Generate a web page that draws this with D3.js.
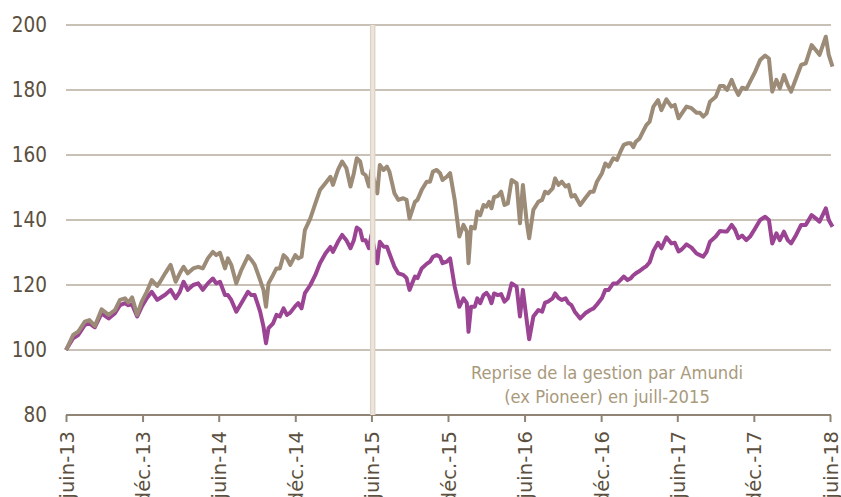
<!DOCTYPE html>
<html><head><meta charset="utf-8">
<script src="https://cdn.jsdelivr.net/npm/d3@7"></script>
<style>body{margin:0;background:#fff} svg{display:block}</style>
</head><body><svg id="c" width="841" height="497"></svg>
<script>
const dates = ["2013-06-01","2013-06-18","2013-06-30","2013-07-16","2013-07-27","2013-08-09","2013-08-25","2013-09-11","2013-09-26","2013-10-08","2013-10-20","2013-10-28","2013-11-06","2013-11-18","2013-11-29","2013-12-11","2013-12-23","2014-01-05","2014-01-12","2014-01-24","2014-02-06","2014-02-18","2014-02-28","2014-03-09","2014-03-19","2014-04-01","2014-04-13","2014-04-24","2014-05-06","2014-05-18","2014-05-26","2014-06-04","2014-06-16","2014-06-23","2014-07-01","2014-07-13","2014-07-25","2014-08-10","2014-08-18","2014-08-26","2014-09-08","2014-09-16","2014-09-22","2014-09-28","2014-10-09","2014-10-17","2014-10-25","2014-11-03","2014-11-11","2014-11-19","2014-12-01","2014-12-08","2014-12-16","2014-12-24","2015-01-06","2015-01-18","2015-01-29","2015-02-11","2015-02-23","2015-03-01","2015-03-13","2015-03-23","2015-04-02","2015-04-12","2015-04-20","2015-04-27","2015-05-05","2015-05-11","2015-05-18","2015-05-26","2015-06-01","2015-06-15","2015-06-21","2015-06-30","2015-07-08","2015-07-14","2015-07-26","2015-08-04","2015-08-16","2015-08-24","2015-08-31","2015-09-13","2015-09-19","2015-09-29","2015-10-11","2015-10-19","2015-10-26","2015-11-04","2015-11-12","2015-11-18","2015-11-28","2015-12-06","2015-12-17","2015-12-28","2016-01-07","2016-01-15","2016-01-19","2016-01-25","2016-02-03","2016-02-09","2016-02-16","2016-02-24","2016-03-02","2016-03-08","2016-03-14","2016-03-20","2016-03-29","2016-04-06","2016-04-14","2016-04-22","2016-05-01","2016-05-13","2016-05-21","2016-05-28","2016-06-06","2016-06-12","2016-06-22","2016-07-04","2016-07-13","2016-07-20","2016-07-27","2016-08-07","2016-08-13","2016-08-21","2016-08-29","2016-09-07","2016-09-14","2016-09-21","2016-09-29","2016-10-12","2016-10-24","2016-11-05","2016-11-13","2016-11-21","2016-12-03","2016-12-11","2016-12-19","2016-12-30","2017-01-08","2017-01-16","2017-01-24","2017-02-02","2017-02-10","2017-02-16","2017-02-22","2017-03-03","2017-03-11","2017-03-19","2017-03-27","2017-04-05","2017-04-16","2017-04-24","2017-05-06","2017-05-18","2017-05-26","2017-06-04","2017-06-12","2017-06-23","2017-07-05","2017-07-17","2017-07-25","2017-08-02","2017-08-10","2017-08-18","2017-09-01","2017-09-11","2017-09-20","2017-09-28","2017-10-09","2017-10-17","2017-10-25","2017-11-03","2017-11-13","2017-11-22","2017-12-04","2017-12-16","2017-12-28","2018-01-06","2018-01-14","2018-01-24","2018-02-01","2018-02-11","2018-02-20","2018-02-28","2018-03-12","2018-03-24","2018-04-04","2018-04-18","2018-04-28","2018-05-07","2018-05-22","2018-05-29","2018-06-07"];

const fundValues = [100,104.6,105.6,108.7,109.2,107.4,112.5,110.8,112.3,115.4,115.9,114.6,116.2,110.8,114.9,117.9,121.5,119.7,121,123.6,126.2,121,123.6,125.6,123.6,125.1,125.6,125.1,128.2,130.2,129.2,129.9,125.1,128.2,126.2,120.5,124.6,128.9,127.7,126.2,121.5,118.5,113.3,120.5,123.1,125.1,125.1,129.2,128.2,126.2,129.2,128.2,128.7,136.9,140.5,145.1,149.2,151.3,153.3,150.8,155.4,158,156,150.3,154.4,159,158,154.4,153.8,150.3,155.4,148.2,156.9,155.4,156.4,154.9,148.2,146.2,146.7,146.2,140.5,145.6,146.2,149.2,151.8,151.8,154.9,155.4,154.4,152.3,153.3,154.4,146.2,134.9,138.5,136.4,126.7,137.9,137.4,142.6,141.5,144.6,144.1,145.6,143.6,147,147.4,148.7,144.6,145.1,152.3,151.3,139,150.8,139.5,134.4,143.1,145.6,146.2,148.7,148.2,149.7,152.8,150.8,151.8,150.3,150.8,147.2,147.7,144.6,146.7,148.7,148.7,151.8,154.4,157.4,156.4,159,158.5,161,163.1,163.6,163.6,162.4,164.1,165.1,167.2,169.2,170.3,174.9,176.9,173.8,177.1,174.9,175.4,171.3,172.8,174.9,174.4,173,173,171.8,172.8,176.4,177.9,181.2,181.2,180,183.1,180.5,178.5,180.7,180.3,182.6,185.6,189.2,190.6,189.7,179.5,183.1,180.5,184.6,181.5,179.5,183.6,187.7,188.2,193.8,192.3,190.8,196.4,190.8,187.2];

const indexValues = [100,103.6,104.6,107.7,108.2,107,111.3,109.7,111.3,113.8,114.4,113.8,114,110.3,113.3,115.9,117.9,115.4,116,117,118.5,115.9,117.9,121,118.5,120,120.5,118.5,120.5,122,120.5,121,116.9,116.9,115.4,111.8,114.4,117.9,116.9,116.9,111.8,107.2,102.1,106.7,108.2,110.8,110.3,112.8,110.8,111.5,113.5,114.4,112.8,117.5,120,123.1,126.7,129.7,131.7,130.2,133.3,135.4,133.8,131.3,133.8,137.7,136.9,133.8,133.8,131.3,135.4,126.7,133.3,131.8,131.8,129.7,125.6,123.6,123.1,122.1,118.5,122.6,122.1,125.1,126.5,127.2,128.7,129.2,128.7,126.7,127.2,128.2,119.5,113.3,115.9,114.4,105.6,113.3,113.3,115.9,114.4,116.9,117.6,116.5,114.4,117.4,116.9,117.2,114.9,115.9,120.5,119.5,110.3,118.5,109.2,103.3,110.3,112.3,111.8,114.6,114.9,115.9,117.4,116,115.4,115.9,114.4,113.8,111.8,109.7,111.3,112.3,112.8,114,116,118.5,118.5,120.5,120.5,121.5,122.6,121.5,122.1,123,123.6,124.3,125.1,125.8,127,130.5,133,131.3,134.7,132.8,133,130.3,131,132.5,131.5,129.7,129.2,128.7,130.2,133.3,134.9,136.6,136.5,136.5,138.5,137,134.4,135.2,133.8,134.9,137.4,140,141,140,132.8,135.9,133.8,136.4,133.8,132.8,135.4,138.5,138.5,141.5,140.5,139.5,143.6,140,137.9];

const yTicks = [80,100,120,140,160,180,200];
const xTickDates = ["2013-06-01","2013-12-01","2014-06-01","2014-12-01","2015-06-01","2015-12-01","2016-06-01","2016-12-01","2017-06-01","2017-12-01","2018-06-01"];
const xTickLabels = ["juin-13","déc.-13","juin-14","déc.-14","juin-15","déc.-15","juin-16","déc.-16","juin-17","déc.-17","juin-18"];
const annotationDate = "2015-06-04";
const annotationLines = ["Reprise de la gestion par Amundi","(ex Pioneer) en juill-2015"];

const parse = d3.timeParse("%Y-%m-%d");
const svg = d3.select("#c");
const FONT_C = "'DejaVu Sans Condensed','DejaVu Sans',sans-serif";
const FONT = "'DejaVu Sans',sans-serif";

const x = d3.scaleTime().domain([parse("2013-06-01"), parse("2018-06-01")]).range([66, 830]);
const y = d3.scaleLinear().domain([80, 200]).range([415, 25]);

// gridlines
svg.append("g").selectAll("line").data(yTicks.filter(v => v > 80)).join("line")
  .attr("x1", 66).attr("x2", 831)
  .attr("y1", d => y(d)).attr("y2", d => y(d))
  .attr("stroke", "#c9c0b6").attr("stroke-width", 2);

// y labels
const yAxis = d3.axisLeft(y).tickValues(yTicks).tickSize(0).tickPadding(0);
const gy = svg.append("g").attr("transform", "translate(47,0)").call(yAxis);
gy.select(".domain").remove();
gy.selectAll("text").attr("font-family", FONT_C).attr("font-stretch", "condensed")
  .attr("font-size", 20.5).attr("fill", "#5b5040");

// x axis
const xAxis = d3.axisBottom(x).tickValues(xTickDates.map(parse))
  .tickFormat((d, i) => xTickLabels[i]).tickSizeOuter(0).tickSize(7);
const gx = svg.append("g").attr("transform", "translate(0,415)").call(xAxis);
gx.select(".domain").attr("stroke", "#8f8475").attr("stroke-width", 2).attr("d", "M66,0H831");
gx.selectAll(".tick line").attr("stroke", "#8f8475").attr("stroke-width", 2);
gx.selectAll("text").attr("font-family", FONT)
  .attr("font-size", 19.5).attr("fill", "#5b5040")
  .attr("text-anchor", "end").attr("transform", "rotate(-90)")
  .attr("x", -16).attr("y", 0).attr("dy", "0.36em");

// lines
const line = vals => d3.line().x((d, i) => x(parse(dates[i]))).y(d => y(d))(vals);
svg.append("path").attr("d", line(indexValues)).attr("fill", "none")
  .attr("stroke", "#9b4493").attr("stroke-width", 4).attr("stroke-linejoin", "round");
svg.append("path").attr("d", line(fundValues)).attr("fill", "none")
  .attr("stroke", "#9c8b77").attr("stroke-width", 4).attr("stroke-linejoin", "round");

// annotation vertical band
const ax = x(parse(annotationDate));
svg.append("line").attr("x1", ax).attr("x2", ax).attr("y1", y(200)).attr("y2", y(80))
  .attr("stroke", "#dcd2c5").attr("stroke-width", 5.5);
svg.append("line").attr("x1", ax).attr("x2", ax).attr("y1", y(200)).attr("y2", y(80))
  .attr("stroke", "#ece5db").attr("stroke-width", 3);

// annotation text
const t = svg.append("text").attr("font-family", FONT_C).attr("font-stretch", "condensed")
  .attr("font-size", 18.2).attr("fill", "#a99a7c").attr("text-anchor", "middle");
annotationLines.forEach((s, i) => t.append("tspan").attr("x", 607).attr("y", 379 + i * 23.5).text(s));
</script></body></html>
